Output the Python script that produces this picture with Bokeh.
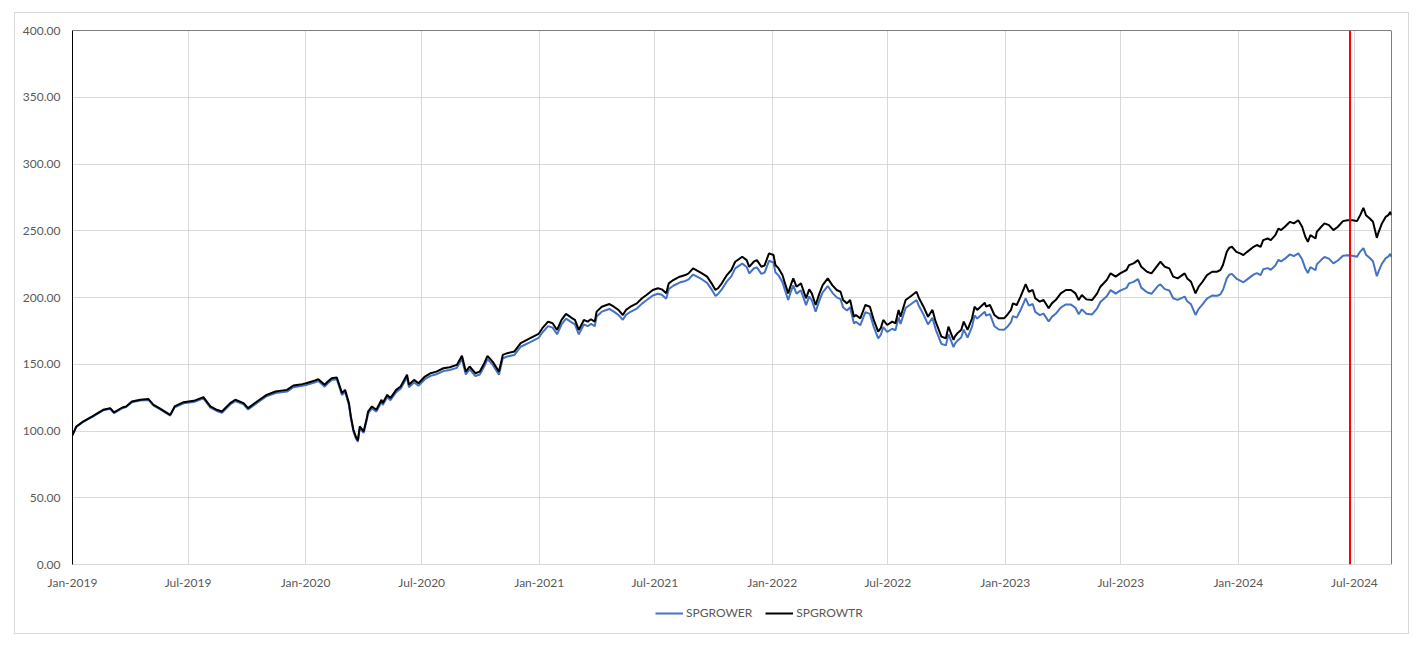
import pandas as pd
from bokeh.plotting import figure
from bokeh.layouts import column, row
from bokeh.models import (FixedTicker, PrintfTickFormatter, DatetimeTickFormatter,
                          Span, Legend, LegendItem, Range1d, ColumnDataSource, Spacer)
from bokeh.embed import file_html
from bokeh.resources import INLINE

dates = [
 "2019-01-01","2019-01-07","2019-01-18","2019-02-01","2019-02-18","2019-03-01","2019-03-07","2019-03-20","2019-03-26",
 "2019-04-04","2019-04-17","2019-04-30","2019-05-08","2019-05-17","2019-06-03","2019-06-10","2019-06-24","2019-07-10",
 "2019-07-25","2019-08-05","2019-08-15","2019-08-23","2019-09-05","2019-09-13","2019-09-26","2019-10-03","2019-10-17",
 "2019-11-01","2019-11-15","2019-12-03","2019-12-13","2019-12-27",
 "2020-01-02","2020-01-16","2020-01-21","2020-01-31","2020-02-05","2020-02-11","2020-02-19","2020-02-24","2020-02-27",
 "2020-03-03","2020-03-09","2020-03-12","2020-03-16","2020-03-20","2020-03-23","2020-03-26","2020-04-01","2020-04-06",
 "2020-04-08","2020-04-14","2020-04-21","2020-04-29","2020-05-01","2020-05-08","2020-05-13","2020-05-22","2020-05-29",
 "2020-06-08","2020-06-11","2020-06-19","2020-06-26","2020-07-06","2020-07-15","2020-07-24","2020-08-04","2020-08-14",
 "2020-08-25","2020-09-02","2020-09-08","2020-09-14","2020-09-23","2020-09-30","2020-10-07","2020-10-12","2020-10-20",
 "2020-10-30","2020-11-05","2020-11-12","2020-11-23","2020-12-03","2020-12-18","2020-12-31",
 "2021-01-06","2021-01-15","2021-01-22","2021-01-29","2021-02-05","2021-02-12","2021-02-22","2021-02-26","2021-03-04",
 "2021-03-12","2021-03-18","2021-03-23","2021-03-29","2021-04-01","2021-04-09","2021-04-21","2021-04-28","2021-05-05",
 "2021-05-12","2021-05-17","2021-05-24","2021-06-03","2021-06-11","2021-06-18","2021-06-28","2021-07-06","2021-07-12",
 "2021-07-19","2021-07-23","2021-07-30","2021-08-09","2021-08-18","2021-08-23","2021-08-30","2021-09-06","2021-09-13",
 "2021-09-21","2021-09-28","2021-10-04","2021-10-08","2021-10-14","2021-10-22","2021-10-29","2021-11-04","2021-11-15",
 "2021-11-22","2021-11-26","2021-12-03","2021-12-08","2021-12-15","2021-12-20","2021-12-27",
 "2022-01-03","2022-01-06","2022-01-11","2022-01-17","2022-01-21","2022-01-26","2022-01-31","2022-02-03","2022-02-08",
 "2022-02-15","2022-02-23","2022-02-28","2022-03-04","2022-03-10","2022-03-16","2022-03-21","2022-03-29","2022-04-05",
 "2022-04-12","2022-04-18","2022-04-22","2022-04-28","2022-05-03","2022-05-09","2022-05-12","2022-05-19","2022-05-27",
 "2022-06-03","2022-06-09","2022-06-16","2022-06-20","2022-06-24","2022-06-30","2022-07-08","2022-07-13","2022-07-18",
 "2022-07-21","2022-07-29","2022-08-05","2022-08-15","2022-08-19","2022-08-26","2022-09-02","2022-09-09","2022-09-14",
 "2022-09-23","2022-09-30","2022-10-04","2022-10-12","2022-10-14","2022-10-18","2022-10-24","2022-10-28","2022-11-03",
 "2022-11-10","2022-11-14","2022-11-18","2022-11-30","2022-12-02","2022-12-08","2022-12-15","2022-12-22","2022-12-30",
 "2023-01-04","2023-01-10","2023-01-13","2023-01-19","2023-01-25","2023-02-02","2023-02-07","2023-02-13","2023-02-17",
 "2023-02-24","2023-03-02","2023-03-10","2023-03-15","2023-03-21","2023-03-29","2023-04-06","2023-04-14","2023-04-21",
 "2023-04-26","2023-05-01","2023-05-08","2023-05-17","2023-05-25","2023-05-30","2023-06-09","2023-06-15","2023-06-23",
 "2023-06-30","2023-07-10","2023-07-14","2023-07-21","2023-07-28","2023-08-02","2023-08-11","2023-08-18","2023-08-28",
 "2023-09-01","2023-09-08","2023-09-15","2023-09-21","2023-09-28","2023-10-09","2023-10-13","2023-10-19","2023-10-26",
 "2023-10-31","2023-11-06","2023-11-13","2023-11-21","2023-11-29","2023-12-04","2023-12-08","2023-12-14","2023-12-18",
 "2023-12-22","2023-12-29",
 "2024-01-04","2024-01-09","2024-01-15","2024-01-25","2024-01-30","2024-02-05","2024-02-09","2024-02-16","2024-02-21",
 "2024-02-28","2024-03-04","2024-03-08","2024-03-14","2024-03-22","2024-03-28","2024-04-04","2024-04-10","2024-04-15",
 "2024-04-19","2024-04-23","2024-05-01","2024-05-03","2024-05-10","2024-05-15","2024-05-22","2024-05-29","2024-06-05",
 "2024-06-13","2024-06-20","2024-06-28","2024-07-05","2024-07-10","2024-07-15","2024-07-19","2024-07-25","2024-07-30",
 "2024-08-05","2024-08-08","2024-08-13","2024-08-19","2024-08-23","2024-08-26","2024-08-28",
]

spgrowtr = [
 97.0,103.4,107.2,110.9,115.9,117.1,113.9,117.6,118.4,
 122.1,123.4,123.9,119.6,117.1,112.1,118.4,121.6,122.6,
 125.4,118.4,115.9,114.6,120.9,123.4,120.9,117.1,122.1,
 127.1,129.6,130.8,134.1,135.1,
 135.8,137.8,138.8,134.6,137.1,139.6,140.1,133.0,128.4,
 130.8,120.9,110.9,100.9,95.5,93.0,103.4,99.7,109.7,
 114.6,118.4,115.9,123.4,120.9,127.1,124.6,130.8,133.3,
 142.1,134.6,138.3,135.8,140.8,143.3,144.5,147.0,147.8,
 149.5,156.3,144.5,148.3,143.3,144.5,150.8,156.3,152.0,
 144.5,157.0,158.3,159.5,165.8,169.5,172.7,
 177.0,181.9,180.7,175.7,183.2,187.7,184.4,183.2,175.7,
 183.2,181.9,183.7,181.9,189.4,193.1,195.1,193.1,190.7,
 186.9,190.7,193.1,195.6,199.4,201.9,205.6,206.9,206.1,
 203.1,210.6,213.1,215.6,216.8,218.1,221.8,220.0,218.1,
 215.6,210.6,205.6,206.9,210.6,216.8,220.6,226.8,230.5,
 228.0,223.0,226.8,228.0,223.0,224.0,233.1,
 231.8,224.3,221.8,216.8,210.6,203.1,210.6,214.3,208.1,
 210.6,199.4,206.1,203.1,194.4,203.1,209.3,214.3,209.3,
 205.6,204.3,198.1,195.6,198.1,185.6,186.9,184.4,194.4,
 193.1,183.2,174.4,177.0,183.2,179.4,181.9,180.7,190.7,
 185.6,198.1,200.6,204.3,199.4,193.1,185.6,190.7,181.9,
 170.7,169.5,178.2,168.2,170.7,173.2,175.7,181.9,175.7,
 184.4,193.1,190.7,196.1,193.1,194.4,186.9,184.4,184.4,
 186.9,190.7,195.6,194.4,200.6,210.1,204.3,205.6,199.4,
 196.9,198.1,191.9,195.6,198.1,203.1,205.6,205.6,203.1,
 198.1,201.9,198.6,198.1,203.1,208.1,213.1,218.1,215.6,
 218.1,220.6,224.3,225.6,228.0,223.0,219.3,218.1,224.3,
 226.8,223.0,221.8,215.6,214.3,218.1,214.3,211.8,203.1,
 208.1,211.8,216.8,219.3,219.3,220.6,224.3,234.2,237.3,
 238.0,234.2,
 233.1,231.8,234.2,238.0,239.3,238.0,243.0,244.2,243.0,
 246.7,251.7,250.5,253.0,256.7,255.5,257.9,253.0,245.5,
 241.7,246.7,244.2,249.2,253.0,255.5,254.2,250.5,253.0,
 257.2,257.9,257.9,257.2,261.7,267.2,261.7,259.2,256.7,
 244.7,249.2,255.5,260.4,261.7,264.1,261.7,
]

spgrower = [
 96.9,103.1,106.9,110.5,115.5,116.6,113.4,117.1,117.9,
 121.5,122.8,123.3,119.0,116.5,111.5,117.7,120.8,121.7,
 124.5,117.5,115.0,113.7,119.9,122.4,119.9,116.1,121.0,
 126.0,128.4,129.5,132.8,133.8,
 134.4,136.4,137.4,133.2,135.7,138.2,138.7,131.6,127.0,
 129.3,119.5,109.6,99.7,94.3,91.9,102.2,98.5,108.4,
 113.2,117.0,114.5,121.9,119.4,125.5,123.0,129.1,131.6,
 140.2,132.8,136.4,133.9,138.8,141.3,142.5,144.9,145.7,
 147.3,154.0,142.4,146.1,141.2,142.3,148.5,153.9,149.7,
 142.2,154.5,155.8,156.9,163.1,166.6,169.7,
 173.8,178.6,177.4,172.5,179.8,184.2,181.0,179.8,172.4,
 179.8,178.5,180.2,178.5,185.8,189.4,191.4,189.4,187.0,
 183.3,187.0,189.3,191.7,195.4,197.9,201.5,202.8,202.0,
 199.0,206.4,208.8,211.2,212.4,213.6,217.2,215.4,213.5,
 211.0,206.1,201.2,202.5,206.0,212.1,215.8,221.8,225.4,
 222.9,218.0,221.7,222.6,217.7,218.7,227.5,
 226.2,218.9,216.4,211.5,205.4,198.1,205.4,209.0,202.9,
 205.3,194.3,200.8,197.9,189.3,197.8,203.8,208.6,203.7,
 200.1,198.8,192.7,190.3,192.7,180.5,181.8,179.3,189.0,
 187.7,178.0,169.4,171.9,177.9,174.2,176.6,175.4,185.1,
 180.1,192.2,194.6,198.1,193.4,187.2,179.9,184.8,176.2,
 165.3,164.1,172.5,162.8,165.2,167.6,170.0,175.9,169.9,
 178.2,186.6,184.2,189.3,186.4,187.6,178.5,176.0,175.9,
 177.9,181.5,186.1,184.9,190.6,199.4,193.9,195.1,189.2,
 186.8,187.9,182.0,185.5,187.8,192.5,194.8,194.7,192.3,
 187.5,191.1,187.9,187.3,191.9,196.6,201.0,205.5,202.9,
 205.1,207.2,210.6,211.7,213.8,207.4,203.9,202.8,208.6,
 209.8,206.3,205.2,199.4,198.2,200.7,197.2,194.9,186.9,
 191.5,194.8,199.2,201.5,201.3,202.4,205.6,214.3,217.1,
 217.7,214.2,
 212.6,211.4,213.6,217.1,218.2,216.8,221.1,222.0,220.8,
 223.9,228.2,227.0,229.1,232.3,231.0,233.1,228.6,221.8,
 218.3,222.7,220.4,224.8,228.2,230.3,229.1,225.6,227.7,
 231.2,231.6,231.3,230.6,234.4,237.0,232.1,229.6,227.2,
 215.9,219.8,225.3,229.5,230.6,232.7,230.5,
]

x_tick_dates = ["2019-01-01","2019-07-01","2020-01-01","2020-07-01","2021-01-01","2021-07-01",
                "2022-01-01","2022-07-01","2023-01-01","2023-07-01","2024-01-01","2024-07-01"]
y_ticks = [0, 50, 100, 150, 200, 250, 300, 350, 400]
marker_date = "2024-06-24"
series_names = ["SPGROWER", "SPGROWTR"]

FONT = "Lato"
GRID = "#D9D9D9"
LABEL = "#595959"
BLUE = "#4472C4"

src = ColumnDataSource(dict(date=pd.to_datetime(dates), tr=spgrowtr, er=spgrower))

def ms(d):
    return pd.Timestamp(d).value / 1e6

# main chart
p = figure(width=1393, height=579, output_backend="svg", toolbar_location=None,
           x_axis_type="datetime",
           x_range=Range1d(ms(dates[0]), ms(dates[-1])),
           y_range=Range1d(y_ticks[0], y_ticks[-1]),
           min_border_left=57, min_border_right=17, min_border_top=17, min_border_bottom=27)
p.outline_line_color = None
p.background_fill_color = "white"
p.border_fill_color = "white"

r_er = p.line("date", "er", source=src, line_color=BLUE, line_width=2)
r_tr = p.line("date", "tr", source=src, line_color="#000000", line_width=2)

p.xaxis.ticker = FixedTicker(ticks=[ms(d) for d in x_tick_dates])
p.xaxis.formatter = DatetimeTickFormatter(days="%b-%Y", months="%b-%Y", years="%b-%Y",
                                          hours="%b-%Y", minutes="%b-%Y", seconds="%b-%Y",
                                          milliseconds="%b-%Y", microseconds="%b-%Y", hourmin="%b-%Y")
p.yaxis.ticker = FixedTicker(ticks=y_ticks)
p.yaxis.formatter = PrintfTickFormatter(format="%.2f")

for ax in (p.xaxis[0], p.yaxis[0]):
    ax.major_tick_line_color = None
    ax.minor_tick_line_color = None
    ax.major_tick_out = 0
    ax.major_tick_in = 0
    ax.minor_tick_out = 0
    ax.major_label_text_font = FONT
    ax.major_label_text_font_size = "12px"
    ax.major_label_text_color = LABEL
p.xaxis.major_label_standoff = 10
p.yaxis.major_label_standoff = 12
p.xaxis.axis_line_color = GRID
p.yaxis.axis_line_color = "black"

p.xgrid.grid_line_color = GRID
p.ygrid.grid_line_color = GRID

p.add_layout(Span(location=y_ticks[-1], dimension="width", line_color="black", line_width=1))
p.add_layout(Span(location=ms(dates[-1]), dimension="height", line_color="black", line_width=1))
p.add_layout(Span(location=ms(marker_date), dimension="height", line_color="#FF0000", line_width=2))

# legend strip (same series, drawn outside its visible range so only the legend shows)
q = figure(width=1393, height=41, output_backend="svg", toolbar_location=None,
           x_axis_type="datetime", x_axis_location=None, y_axis_location=None,
           x_range=Range1d(ms(dates[0]), ms(dates[-1])), y_range=Range1d(1000, 1001),
           min_border=0)
q.outline_line_color = None
q.xgrid.visible = False
q.ygrid.visible = False
q.background_fill_color = "white"
q.border_fill_color = "white"
l_er = q.line("date", "er", source=src, line_color=BLUE, line_width=2)
l_tr = q.line("date", "tr", source=src, line_color="#000000", line_width=2)

legend = Legend(items=[LegendItem(label=series_names[0], renderers=[l_er]),
                       LegendItem(label=series_names[1], renderers=[l_tr])],
                orientation="horizontal", location=(583, 13),
                glyph_width=28, glyph_height=14, label_standoff=3, spacing=13,
                padding=0, margin=0, border_line_color=None, background_fill_alpha=0,
                label_text_font=FONT, label_text_font_size="12px", label_text_color=LABEL)
q.add_layout(legend, "center")

chart = column(p, q, spacing=0, styles={"outline": "1px solid #D9D9D9"})
root = column(Spacer(height=13), row(Spacer(width=15), chart, spacing=0), spacing=0)

open("out.html", "w").write(file_html(root, INLINE))
